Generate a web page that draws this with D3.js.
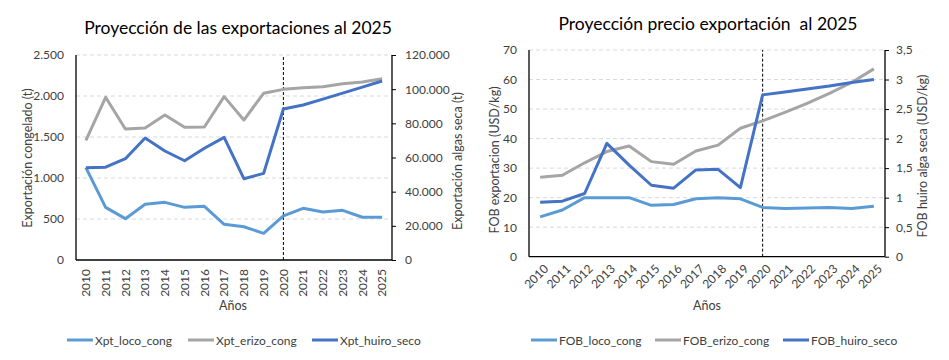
<!DOCTYPE html>
<html><head><meta charset="utf-8">
<script src="https://cdn.jsdelivr.net/npm/d3@7"></script>
<style>
body{margin:0;background:#fff;}
svg text{font-family:Lato,"Liberation Sans",sans-serif;fill:#404040;white-space:pre;}
</style></head>
<body><svg id="c" width="949" height="360"></svg>
<script>
const years = ["2010","2011","2012","2013","2014","2015","2016","2017","2018","2019","2020","2021","2022","2023","2024","2025"];
// Left chart: exports (t)
const xptLoco  = [1126,642,504,679,703,642,655,435,406,325,537,630,585,606,521,521];
const xptErizo = [1460,1984,1598,1610,1768,1618,1622,1992,1707,2033,2081,2100,2114,2150,2170,2211];
const xptHuiro = [54000,54300,59300,71400,63800,58100,65400,71800,47600,50700,88400,90700,94200,97700,101200,104800];
const leftTicksL = [0,500,1000,1500,2000,2500];
const leftTicksR = [0,20000,40000,60000,80000,100000,120000];
// Right chart: FOB prices (USD/kg)
const fobLoco  = [13.5,15.8,20.0,20.0,20.0,17.4,17.7,19.6,20.0,19.6,16.7,16.3,16.5,16.7,16.3,17.1];
const fobErizo = [26.9,27.6,31.8,35.6,37.5,32.2,31.3,35.8,37.8,43.5,46.0,48.9,51.9,55.3,59.0,63.6];
const fobHuiro = [0.92,0.94,1.07,1.92,1.55,1.21,1.16,1.47,1.48,1.17,2.74,2.79,2.84,2.89,2.95,3.00];
const rightTicksL = [0,10,20,30,40,50,60,70];
const rightTicksR = [0,0.5,1,1.5,2,2.5,3,3.5];
const splitYear = "2020";

const colLoco = "#5b9bd5", colErizo = "#a5a5a5", colHuiro = "#4472c4";
const svg = d3.select("#c");
const fmtThousand = d3.formatLocale({decimal:",",thousands:".",grouping:[3],currency:["",""]}).format(",");
const fmtComma = v => String(v).replace(".",",");

function chart(cfg){
  const g = svg.append("g");
  const x = d3.scaleBand().domain(years).range([cfg.x0,cfg.x1]);
  const yL = d3.scaleLinear().domain([0,cfg.maxL]).range([cfg.y0,cfg.y1]);
  const yR = d3.scaleLinear().domain([0,cfg.maxR]).range([cfg.y0,cfg.y1]);
  const cx = d => x(d)+x.bandwidth()/2;
  // grid
  g.selectAll(".grid").data(cfg.ticksL.slice(1)).join("line")
    .attr("x1",cfg.x0).attr("x2",cfg.x1).attr("y1",d=>yL(d)).attr("y2",d=>yL(d))
    .attr("stroke","#d9d9d9").attr("stroke-dasharray","4,3").attr("stroke-width",1);
  // split line
  g.append("line").attr("x1",cx(splitYear)).attr("x2",cx(splitYear)).attr("y1",cfg.y0).attr("y2",cfg.y1)
    .attr("stroke","#000").attr("stroke-dasharray","3,2").attr("stroke-width",1);
  // axes
  const axL = g.append("g").attr("transform",`translate(${cfg.x0},0)`)
    .call(d3.axisLeft(yL).tickValues(cfg.ticksL).tickFormat(cfg.fmtL).tickSize(0).tickPadding(cfg.padL));
  const axR = g.append("g").attr("transform",`translate(${cfg.x1},0)`)
    .call(d3.axisRight(yR).tickValues(cfg.ticksR).tickFormat(cfg.fmtR).tickSize(4).tickPadding(cfg.padR));
  const axB = g.append("g").attr("transform",`translate(0,${cfg.y0})`)
    .call(d3.axisBottom(x).tickSize(0).tickSizeOuter(0));
  [axL,axR,axB].forEach(a=>{
    a.select(".domain").attr("stroke","#000").attr("stroke-width",1.3);
    a.selectAll(".tick line").attr("stroke","#000");
    a.selectAll("text").attr("font-size",12).attr("font-family","Lato,sans-serif").attr("fill","#404040");
  });
  axL.select(".domain").attr("d",`M0,${cfg.y0}V${cfg.y1}`);
  axR.select(".domain").attr("d",`M0,${cfg.y0}V${cfg.y1}`);
  axB.select(".domain").attr("d",`M${cfg.x0},0H${cfg.x1}`);
  if(cfg.rot===-90){
    axB.selectAll("text").attr("transform","rotate(-90)").attr("text-anchor","end")
      .attr("x",-9).attr("y",0).attr("dy","0.35em");
  } else {
    axB.selectAll("text").attr("transform","translate(6,10) rotate(-45)").attr("text-anchor","end")
      .attr("x",0).attr("y",0).attr("dy","0.35em");
  }
  // lines
  const series = [[cfg.sL1,yL,colLoco],[cfg.sL2,yL,colErizo],[cfg.sR,yR,colHuiro]];
  series.forEach(([vals,ys,col])=>{
    g.append("path").datum(vals)
      .attr("fill","none").attr("stroke",col).attr("stroke-width",3).attr("stroke-linejoin","round")
      .attr("d",d3.line().x((d,i)=>cx(years[i])).y(d=>ys(d)));
  });
  // title
  g.append("text").attr("x",cfg.titleX).attr("y",cfg.titleY).attr("text-anchor","middle")
    .attr("font-size",17.5).style("fill","#000").text(cfg.title);
  // axis titles
  g.append("text").attr("transform",`translate(${cfg.yTitleLX},${cfg.yTitleLY}) rotate(-90)`)
    .attr("text-anchor","middle").attr("font-size",12.5).text(cfg.yTitleL);
  g.append("text").attr("transform",`translate(${cfg.yTitleRX},${cfg.yTitleRY}) rotate(-90)`)
    .attr("text-anchor","middle").attr("font-size",12.5).text(cfg.yTitleR);
  g.append("text").attr("x",cfg.xTitleX).attr("y",310).attr("text-anchor","middle")
    .attr("font-size",12.5).text("Años");
  // legend
  cfg.legend.forEach((name,i)=>{
    const lx = cfg.legX[i];
    g.append("line").attr("x1",lx).attr("x2",lx+26).attr("y1",340).attr("y2",340)
      .attr("stroke",[colLoco,colErizo,colHuiro][i]).attr("stroke-width",3);
    g.append("text").attr("x",lx+28).attr("y",344.5).attr("font-size",12).text(name);
  });
}

chart({x0:76,x1:392,y0:260,y1:55,maxL:2500,maxR:120000,ticksL:leftTicksL,ticksR:leftTicksR,
  fmtL:fmtThousand,fmtR:fmtThousand,padL:12,padR:9,rot:-90,
  sL1:xptLoco,sL2:xptErizo,sR:xptHuiro,
  title:"Proyección de las exportaciones al 2025",titleX:238,titleY:34,
  yTitleL:"Exportación congelado (t)",yTitleLX:32,yTitleLY:158,
  yTitleR:"Exportación algas seca (t)",yTitleRX:462,yTitleRY:161,xTitleX:233,
  legend:["Xpt_loco_cong","Xpt_erizo_cong","Xpt_huiro_seco"],legX:[67,188,312]});

chart({x0:529,x1:885,y0:256.7,y1:50,maxL:70,maxR:3.5,ticksL:rightTicksL,ticksR:rightTicksR,
  fmtL:d=>d,fmtR:fmtComma,padL:12,padR:7,rot:-45,
  sL1:fobLoco,sL2:fobErizo,sR:fobHuiro,
  title:"Proyección precio exportación  al 2025",titleX:708,titleY:30,
  yTitleL:"FOB exportacion (USD/kg)",yTitleLX:499,yTitleLY:160,
  yTitleR:"FOB huiro alga seca (USD/kg)",yTitleRX:927,yTitleRY:156,xTitleX:707,
  legend:["FOB_loco_cong","FOB_erizo_cong","FOB_huiro_seco"],legX:[531,655,783]});
</script></body></html>
